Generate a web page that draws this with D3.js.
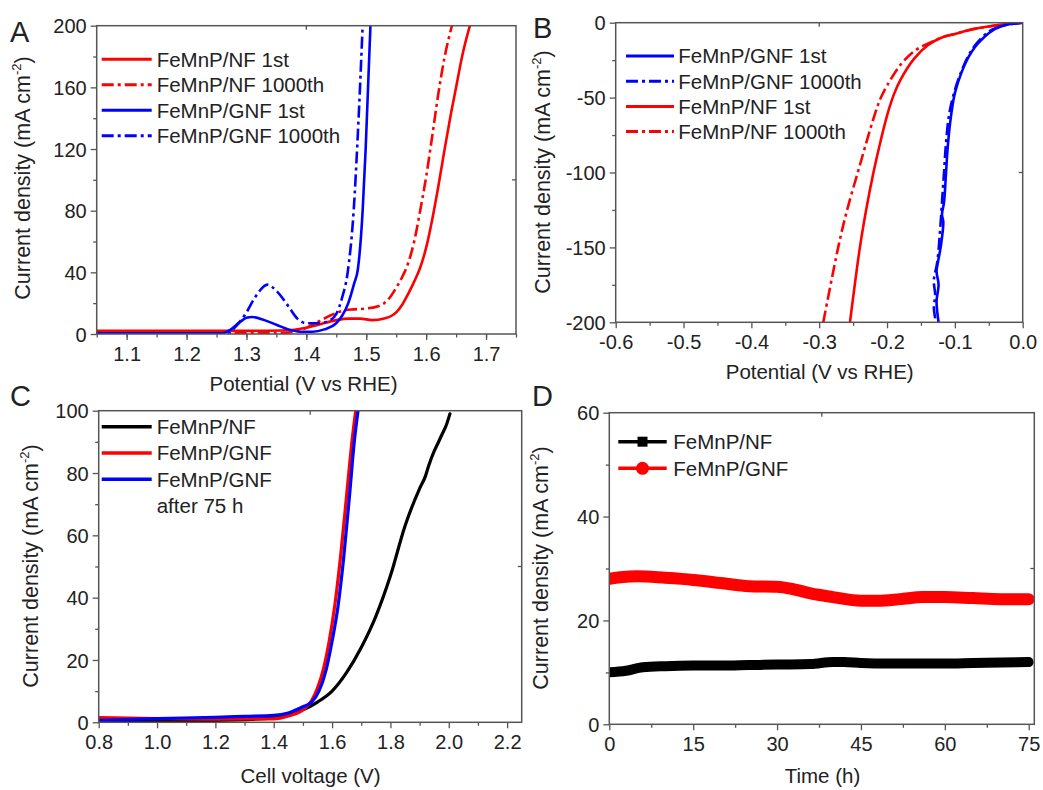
<!DOCTYPE html>
<html>
<head>
<meta charset="utf-8">
<script src="https://cdn.jsdelivr.net/npm/d3@7"></script>
<style>
  body { margin: 0; background: #fff; }
  svg { display: block; }
  text { font-family: "Liberation Sans", Arial, sans-serif; fill: #222; }
</style>
</head>
<body>
<svg id="chart" width="1043" height="790"></svg>
<script>
// ---------------- DATA ----------------
// Panel A: OER polarization (Potential V vs RHE, mA cm-2)
const aNF1st = [[1.05,2],[1.10,2],[1.20,2],[1.30,2],[1.36,2.3],[1.38,2.8],[1.40,4],[1.42,6],[1.45,9],[1.47,10],[1.49,10],[1.51,9],[1.53,10],[1.55,14],[1.56,19],[1.57,26],[1.58,34],[1.59,43],[1.60,56],[1.61,74],[1.62,95],[1.63,118],[1.64,140],[1.65,160],[1.66,180],[1.673,200]];
const aNF1000 = [[1.05,1],[1.20,1],[1.28,0.5],[1.35,0.5],[1.38,1.5],[1.40,4],[1.42,8],[1.44,12],[1.46,15],[1.48,16],[1.50,16.5],[1.52,18],[1.53,20],[1.54,24],[1.55,30],[1.56,37],[1.57,46],[1.58,60],[1.59,80],[1.60,102],[1.61,128],[1.62,155],[1.63,178],[1.643,200]];
const aGNF1st = [[1.05,0.5],[1.26,0.5],[1.27,2],[1.29,8],[1.30,10.5],[1.31,11],[1.33,9],[1.35,6],[1.37,3],[1.39,1.5],[1.41,1.5],[1.43,3],[1.45,7],[1.46,12],[1.47,20],[1.48,33],[1.486,42],[1.494,80],[1.499,120],[1.503,160],[1.507,200]];
const aGNF1000 = [[1.05,0.5],[1.27,0.5],[1.28,4],[1.30,14],[1.31,21],[1.32,27],[1.335,32],[1.35,28],[1.37,18],[1.385,10],[1.40,7],[1.42,7],[1.44,9],[1.45,13],[1.46,24],[1.469,40],[1.479,80],[1.486,130],[1.494,200]];

// Panel B: HER polarization
const bGNF1st = [[0,0],[-0.02,-1],[-0.04,-4],[-0.06,-11],[-0.07,-16],[-0.08,-23],[-0.09,-33],[-0.10,-47],[-0.105,-60],[-0.11,-80],[-0.113,-100],[-0.116,-120],[-0.119,-128],[-0.117,-133],[-0.121,-150],[-0.125,-160],[-0.127,-166],[-0.124,-175],[-0.127,-186],[-0.124,-200]];
const bGNF1000 = [[0,0],[-0.03,-2],[-0.05,-6],[-0.07,-15],[-0.08,-22],[-0.09,-32],[-0.10,-45],[-0.108,-60],[-0.113,-80],[-0.116,-100],[-0.119,-120],[-0.122,-140],[-0.126,-160],[-0.131,-172],[-0.129,-182],[-0.131,-190],[-0.128,-200]];
const bNF1st = [[0,0],[-0.02,-0.5],[-0.05,-2.5],[-0.08,-5],[-0.10,-7.5],[-0.12,-10],[-0.14,-15],[-0.16,-24],[-0.18,-38],[-0.19,-48],[-0.20,-62],[-0.21,-80],[-0.22,-100],[-0.23,-123],[-0.24,-150],[-0.2546,-200]];
const bNF1000 = [[0,0],[-0.05,-2.5],[-0.08,-5],[-0.10,-7.5],[-0.12,-10],[-0.14,-14],[-0.16,-19],[-0.18,-28],[-0.20,-42],[-0.21,-51],[-0.22,-64],[-0.24,-95],[-0.26,-127],[-0.272,-150],[-0.294,-200]];

// Panel C: two-electrode cell
const cNF = [[0.8,0.4],[1.0,0.4],[1.2,0.6],[1.4,1.4],[1.45,2.4],[1.5,4],[1.55,6.5],[1.6,10],[1.65,16],[1.7,24],[1.75,34],[1.8,47],[1.85,63],[1.9,75],[1.92,79],[1.93,82],[1.95,87],[1.96,89],[1.98,93],[1.99,95],[2.004,99]];
const cGNF = [[0.8,1.5],[1.0,1.2],[1.2,1.0],[1.4,1.1],[1.45,2],[1.5,4],[1.53,7],[1.55,11],[1.57,17],[1.59,26],[1.61,38],[1.63,54],[1.65,73],[1.668,90],[1.681,100]];
const cGNF75 = [[0.8,0.6],[1.0,1.2],[1.2,1.6],[1.3,1.9],[1.4,2.2],[1.45,3],[1.5,5],[1.53,6.5],[1.555,10],[1.58,17],[1.60,26],[1.62,37],[1.64,53],[1.66,73],[1.676,90],[1.689,100]];

// Panel D: stability
const dNF = [[0,10],[3,10.3],[6,11],[10,11.2],[15,11.3],[20,11.3],[25,11.4],[30,11.5],[36,11.6],[40,12],[42,12],[45,11.8],[50,11.7],[55,11.7],[60,11.7],[65,11.8],[70,11.9],[75,12]];
const dGNF = [[0,28],[2,28.3],[5,28.5],[10,28.2],[15,27.8],[20,27.2],[25,26.6],[30,26.5],[33,26],[36,25.2],[40,24.5],[45,23.8],[48,23.8],[52,24.1],[56,24.5],[60,24.5],[65,24.3],[70,24.1],[75,24.1]];

// Tick values
const aXTicks = [1.1,1.2,1.3,1.4,1.5,1.6,1.7];
const aYTicks = [0,40,80,120,160,200];
const bXTicks = [-0.6,-0.5,-0.4,-0.3,-0.2,-0.1,0.0];
const bYTicks = [0,-50,-100,-150,-200];
const cXTicks = [0.8,1.0,1.2,1.4,1.6,1.8,2.0,2.2];
const cYTicks = [0,20,40,60,80,100];
const dXTicks = [0,15,30,45,60,75];
const dYTicks = [0,20,40,60];

const RED = "#ff0000", BLUE = "#0000ff", BLACK = "#000000";
const DASHDOT = "12,4,3,4";

// ---------------- DRAWING ----------------
const svg = d3.select("#chart");
const AXIS = "#555";

function panel(cfg) {
  const g = svg.append("g");
  const x = d3.scaleLinear().domain(cfg.xDom).range([cfg.l, cfg.r]);
  const y = d3.scaleLinear().domain(cfg.yDom).range([cfg.b, cfg.t]);
  const id = "clip" + cfg.name;
  svg.append("clipPath").attr("id", id).append("rect")
    .attr("x", cfg.l).attr("y", cfg.t).attr("width", cfg.r - cfg.l).attr("height", cfg.b - cfg.t);

  // minor ticks
  const gxm = g.append("g").attr("transform", `translate(0,${cfg.b})`)
    .call(d3.axisBottom(x).tickValues(cfg.xMinor).tickSize(3.5).tickFormat(""));
  const gym = g.append("g").attr("transform", `translate(${cfg.l},0)`)
    .call(d3.axisLeft(y).tickValues(cfg.yMinor).tickSize(3.5).tickFormat(""));
  // major ticks
  const gx = g.append("g").attr("transform", `translate(0,${cfg.b})`)
    .call(d3.axisBottom(x).tickValues(cfg.xTicks).tickSize(6).tickPadding(5).tickFormat(cfg.xFmt));
  const gy = g.append("g").attr("transform", `translate(${cfg.l},0)`)
    .call(d3.axisLeft(y).tickValues(cfg.yTicks).tickSize(6).tickPadding(4).tickFormat(cfg.yFmt));
  [gxm, gym, gx, gy].forEach(a => {
    a.select(".domain").remove();
    a.selectAll("line").attr("stroke", AXIS).attr("stroke-width", 1.3);
    a.selectAll("text").attr("font-size", 20).attr("fill", "#222")
      .attr("font-family", '"Liberation Sans", Arial, sans-serif');
  });
  gx.selectAll("text").attr("dy", null).attr("y", 27).attr("dominant-baseline", "auto");
  gy.selectAll("text").attr("dy", "0.36em");

  // mirror middle ticks (inward)
  const xm = (cfg.xDom[0] + cfg.xDom[1]) / 2, ym = (cfg.yDom[0] + cfg.yDom[1]) / 2;
  g.append("line").attr("x1", x(xm)).attr("x2", x(xm)).attr("y1", cfg.t).attr("y2", cfg.t + 4)
    .attr("stroke", AXIS).attr("stroke-width", 1.3);
  g.append("line").attr("x1", cfg.r).attr("x2", cfg.r - 4).attr("y1", y(ym)).attr("y2", y(ym))
    .attr("stroke", AXIS).attr("stroke-width", 1.3);

  const plot = g.append("g").attr("clip-path", `url(#${id})`);
  const line = d3.line().x(d => x(d[0])).y(d => y(d[1])).curve(d3.curveMonotoneX);
  const lineY = d3.line().x(d => x(d[0])).y(d => y(d[1])).curve(d3.curveCatmullRom.alpha(0.5));
  cfg.series.forEach(s => {
    plot.append("path").datum(s.data)
      .attr("d", s.mono === false ? lineY(s.data) : line(s.data))
      .attr("fill", "none").attr("stroke", s.color).attr("stroke-width", s.w || 2.6)
      .attr("stroke-linejoin", "round").attr("stroke-linecap", s.dash ? "butt" : "round")
      .attr("stroke-dasharray", s.dash || null);
  });

  // frame
  g.append("rect").attr("x", cfg.l).attr("y", cfg.t).attr("width", cfg.r - cfg.l).attr("height", cfg.b - cfg.t)
    .attr("fill", "none").attr("stroke", AXIS).attr("stroke-width", 1.5);

  // axis titles
  g.append("text").attr("x", cfg.xtX).attr("y", cfg.xtY).attr("text-anchor", "middle")
    .attr("font-size", 20.5).text(cfg.xTitle);
  const yt = g.append("text").attr("transform", `translate(${cfg.ytX},${cfg.ytY}) rotate(-90)`)
    .attr("text-anchor", "middle").attr("font-size", 21.5);
  yt.append("tspan").text("Current density (mA cm");
  yt.append("tspan").attr("font-size", 13).attr("dy", -9).text("-2");
  yt.append("tspan").attr("dy", 9).text(")");

  // panel letter
  g.append("text").attr("x", cfg.letX).attr("y", cfg.letY).attr("font-size", 29).text(cfg.name);

  // legend
  cfg.legend.forEach((it, i) => {
    const yy = cfg.legY + i * cfg.legDy;
    g.append("line").attr("x1", cfg.legX1).attr("x2", cfg.legX2).attr("y1", yy).attr("y2", yy)
      .attr("stroke", it.color).attr("stroke-width", it.w || 3).attr("stroke-dasharray", it.dash || null);
    if (it.marker === "square") {
      const mx = (cfg.legX1 + cfg.legX2) / 2;
      g.append("rect").attr("x", mx - 5).attr("y", yy - 5).attr("width", 10).attr("height", 10).attr("fill", it.color);
    } else if (it.marker === "circle") {
      const mx = (cfg.legX1 + cfg.legX2) / 2;
      g.append("circle").attr("cx", mx).attr("cy", yy).attr("r", 6.5).attr("fill", it.color);
    }
    g.append("text").attr("x", cfg.legTx).attr("y", yy).attr("dy", "0.36em")
      .attr("font-size", 20.5).text(it.label);
    if (it.label2) {
      g.append("text").attr("x", cfg.legTx).attr("y", yy + cfg.legDy).attr("dy", "0.36em")
        .attr("font-size", 20.5).text(it.label2);
    }
  });
  return { x, y };
}

const f1 = d => d.toFixed(1);
const f0 = d => String(d);
const range = (a, b, s) => d3.range(a, b + s / 2, s).map(v => +v.toFixed(4));

panel({
  name: "A", l: 96.7, r: 516, t: 25.7, b: 334,
  xDom: [1.05, 1.75], yDom: [0, 200],
  xTicks: aXTicks, yTicks: aYTicks,
  xMinor: range(1.05, 1.75, 0.05), yMinor: range(20, 180, 40),
  xFmt: f1, yFmt: f0,
  xTitle: "Potential (V vs RHE)", xtX: 303.5, xtY: 391,
  ytX: 30, ytY: 178,
  letX: 10, letY: 42,
  series: [
    { data: aNF1st, color: RED },
    { data: aNF1000, color: RED, dash: DASHDOT },
    { data: aGNF1st, color: BLUE },
    { data: aGNF1000, color: BLUE, dash: DASHDOT }
  ],
  legX1: 101.7, legX2: 151.7, legTx: 156.7, legY: 59.3, legDy: 25.5,
  legend: [
    { label: "FeMnP/NF 1st", color: RED },
    { label: "FeMnP/NF 1000th", color: RED, dash: DASHDOT },
    { label: "FeMnP/GNF 1st", color: BLUE },
    { label: "FeMnP/GNF 1000th", color: BLUE, dash: DASHDOT }
  ]
});

panel({
  name: "B", l: 615.7, r: 1022.7, t: 22.7, b: 322.3,
  xDom: [-0.6, 0], yDom: [-200, 0],
  xTicks: bXTicks, yTicks: bYTicks,
  xMinor: range(-0.55, -0.05, 0.1), yMinor: range(-175, -25, 50),
  xFmt: f1, yFmt: f0,
  xTitle: "Potential (V vs RHE)", xtX: 819.7, xtY: 379,
  ytX: 550, ytY: 172,
  letX: 533, letY: 38,
  series: [
    { data: bNF1st, color: RED, mono: false },
    { data: bNF1000, color: RED, dash: DASHDOT, mono: false },
    { data: bGNF1st, color: BLUE, mono: false },
    { data: bGNF1000, color: BLUE, dash: DASHDOT, mono: false }
  ],
  legX1: 626, legX2: 674, legTx: 678.3, legY: 56, legDy: 25.2,
  legend: [
    { label: "FeMnP/GNF 1st", color: BLUE },
    { label: "FeMnP/GNF 1000th", color: BLUE, dash: DASHDOT },
    { label: "FeMnP/NF 1st", color: RED },
    { label: "FeMnP/NF 1000th", color: RED, dash: DASHDOT }
  ]
});

panel({
  name: "C", l: 98.7, r: 521.7, t: 410.7, b: 722.3,
  xDom: [0.8, 2.25], yDom: [0, 100],
  xTicks: cXTicks, yTicks: cYTicks,
  xMinor: range(0.9, 2.1, 0.2), yMinor: range(10, 90, 20),
  xFmt: f1, yFmt: f0,
  xTitle: "Cell voltage (V)", xtX: 310.5, xtY: 783,
  ytX: 38, ytY: 566,
  letX: 10, letY: 406,
  series: [
    { data: cNF, color: BLACK, w: 3.2 },
    { data: cGNF, color: RED, w: 3.2 },
    { data: cGNF75, color: BLUE, w: 3.2 }
  ],
  legX1: 101.7, legX2: 151.7, legTx: 156.7, legY: 426.7, legDy: 26.3,
  legend: [
    { label: "FeMnP/NF", color: BLACK, w: 3.5 },
    { label: "FeMnP/GNF", color: RED, w: 3.5 },
    { label: "FeMnP/GNF", label2: "after 75 h", color: BLUE, w: 3.5 }
  ]
});

panel({
  name: "D", l: 609.3, r: 1034.3, t: 412.7, b: 724.3,
  xDom: [0, 76], yDom: [0, 60],
  xTicks: dXTicks, yTicks: dYTicks,
  xMinor: range(7.5, 67.5, 15), yMinor: range(10, 50, 20),
  xFmt: f0, yFmt: f0,
  xTitle: "Time (h)", xtX: 822.5, xtY: 783,
  ytX: 548, ytY: 568,
  letX: 532, letY: 406,
  series: [
    { data: dNF, color: BLACK, w: 10 },
    { data: dGNF, color: RED, w: 12 }
  ],
  legX1: 618.3, legX2: 666.7, legTx: 673.3, legY: 441.7, legDy: 26.6,
  legend: [
    { label: "FeMnP/NF", color: BLACK, marker: "square", w: 3.5 },
    { label: "FeMnP/GNF", color: RED, marker: "circle", w: 3.5 }
  ]
});
</script>
</body>
</html>
